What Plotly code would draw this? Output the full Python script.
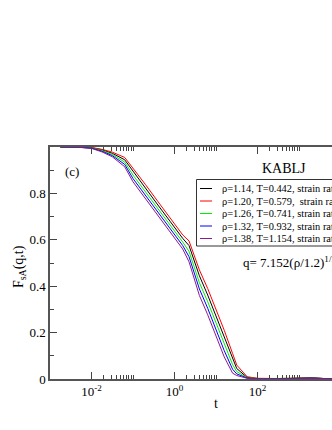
import plotly.graph_objects as go

# tiempos (escala log) y F_sA(q,t)
t = [0.00178, 0.00398, 0.01, 0.0178, 0.0316, 0.0631, 0.1, 0.2, 0.398, 0.794,
     1.58, 2.24, 3.98, 6.31, 10, 15.8, 25.1, 31.6, 56.2, 100,
     316, 1000, 2000, 3980, 6310]

f_114 = [1.0, 1.0, 0.997, 0.988, 0.973, 0.945, 0.895, 0.823, 0.75, 0.678,
         0.606, 0.575, 0.445, 0.362, 0.272, 0.18, 0.085, 0.045, 0.007, 0.002,
         0.001, 0.003, 0.005, 0.002, 0.001]
f_120 = [1.0, 1.0, 0.998, 0.99, 0.978, 0.955, 0.91, 0.838, 0.765, 0.693,
         0.621, 0.595, 0.47, 0.39, 0.30, 0.21, 0.11, 0.06, 0.01, 0.003,
         0.002, 0.004, 0.006, 0.002, 0.001]
f_126 = [1.0, 1.0, 0.996, 0.985, 0.968, 0.935, 0.879, 0.807, 0.734, 0.662,
         0.59, 0.55, 0.415, 0.333, 0.243, 0.15, 0.062, 0.032, 0.005, 0.002,
         0.001, 0.003, 0.004, 0.002, 0.001]
f_132 = [1.0, 1.0, 0.995, 0.982, 0.963, 0.925, 0.864, 0.792, 0.719, 0.647,
         0.575, 0.527, 0.388, 0.305, 0.215, 0.122, 0.042, 0.022, 0.004, 0.001,
         0.001, 0.003, 0.004, 0.002, 0.001]
f_138 = [1.0, 1.0, 0.994, 0.979, 0.958, 0.915, 0.85, 0.777, 0.704, 0.632,
         0.56, 0.505, 0.36, 0.277, 0.187, 0.095, 0.025, 0.015, 0.003, 0.001,
         0.001, 0.002, 0.004, 0.002, 0.001]

labels = ['ρ=1.14, T=0.442, strain rate',
          'ρ=1.20, T=0.579,  strain rate',
          'ρ=1.26, T=0.741, strain rate',
          'ρ=1.32, T=0.932, strain rate',
          'ρ=1.38, T=1.154, strain rate']
series = [f_114, f_120, f_126, f_132, f_138]
colors = ['#000000', '#ff0000', '#00ee00', '#0000ff', '#8b1a8b']

x_tickvals = [0.01, 1, 100, 10000]
x_ticktext = ['10<sup>-2</sup>', '10<sup>0</sup>', '10<sup>2</sup>', '10<sup>4</sup>']
y_tickvals = [0, 0.2, 0.4, 0.6, 0.8]
y_ticktext = ['0', '0.2', '0.4', '0.6', '0.8']

FONT = 'Liberation Serif'
W, H = 332, 430
L, R, T, B = 50, 0, 147, 51
PW, PH = W - L - R, H - T - B


def px(x):  # pixel -> paper x
    return (x - L) / PW


def py(y):  # pixel -> paper y
    return (H - B - y) / PH


fig = go.Figure()
for s, c, lab in zip(series, colors, labels):
    fig.add_trace(go.Scatter(x=t, y=s, mode='lines', name=lab,
                             line=dict(color=c, width=1), showlegend=False))

minor_x = [k * 10 ** e for e in (-2, 0, 2) for k in range(2, 11)]

fig.update_xaxes(type='log', range=[-3, -3 + PW / 41.5],
                 tickmode='array', tickvals=x_tickvals, ticktext=x_ticktext,
                 ticks='inside', ticklen=7, tickwidth=1, tickcolor='#444',
                 showline=True, linecolor='#555', linewidth=1.5, mirror='allticks',
                 showgrid=False, zeroline=False,
                 tickfont=dict(family=FONT, size=13, color='black'),
                 minor=dict(tickvals=minor_x, ticks='inside', ticklen=4,
                            tickcolor='#444', showgrid=False))
fig.update_yaxes(range=[0, 1.0], tickmode='array', tickvals=y_tickvals,
                 ticktext=y_ticktext, ticks='inside', ticklen=7, tickwidth=1,
                 tickcolor='#444', showline=True, linecolor='#555', linewidth=1.5,
                 showgrid=False, zeroline=False,
                 tickfont=dict(family=FONT, size=13, color='black'),
                 minor=dict(tickvals=[0.1, 0.3, 0.5, 0.7, 0.9], ticks='inside',
                            ticklen=4, tickcolor='#444', showgrid=False))

# leyenda dibujada a mano (caja + muestras + textos)
shapes = [dict(type='rect', xref='paper', yref='paper', x0=px(196.5), x1=px(400),
               y0=py(246), y1=py(179.5), line=dict(color='#333', width=1),
               fillcolor='white', layer='above')]
annots = []
for i, (c, lab) in enumerate(zip(colors, labels)):
    yy = 188.5 + i * 12.5
    shapes.append(dict(type='line', xref='paper', yref='paper', x0=px(200), x1=px(212),
                       y0=py(yy), y1=py(yy), line=dict(color=c, width=1), layer='above'))
    annots.append(dict(text=lab, xref='paper', yref='paper', x=px(220), y=py(yy),
                       xanchor='left', yanchor='middle', showarrow=False,
                       font=dict(family=FONT, size=10.4, color='black')))

annots += [
    dict(text='KABLJ', xref='paper', yref='paper', x=px(284), y=py(168),
         xanchor='center', yanchor='middle', showarrow=False,
         font=dict(family=FONT, size=14, color='black')),
    dict(text='(c)', xref='paper', yref='paper', x=px(71.5), y=py(171.5),
         xanchor='center', yanchor='middle', showarrow=False,
         font=dict(family=FONT, size=13, color='black')),
    dict(text='q= 7.152(ρ/1.2)<sup>1/3</sup>', xref='paper', yref='paper',
         x=px(241), y=py(262), xanchor='left', yanchor='middle', showarrow=False,
         font=dict(family=FONT, size=13, color='black')),
    dict(text='t', xref='x', yref='paper', x=1, y=py(403),
         xanchor='center', yanchor='middle', showarrow=False,
         font=dict(family=FONT, size=14, color='black')),
    dict(text='F<sub>sA</sub>(q,t)', xref='paper', yref='paper', x=px(19), y=py(267),
         xanchor='center', yanchor='middle', textangle=-90, showarrow=False,
         font=dict(family=FONT, size=14, color='black')),
]

fig.update_layout(width=W, height=H, margin=dict(l=L, r=R, t=T, b=B),
                  paper_bgcolor='white', plot_bgcolor='white',
                  shapes=shapes, annotations=annots, showlegend=False)

# sin margen del body para que la figura ocupe la ventana exacta
fig.write_html('out.html', config={'displayModeBar': False},
               post_script="document.body.style.margin='0';"
                           "document.body.style.overflow='hidden';")
